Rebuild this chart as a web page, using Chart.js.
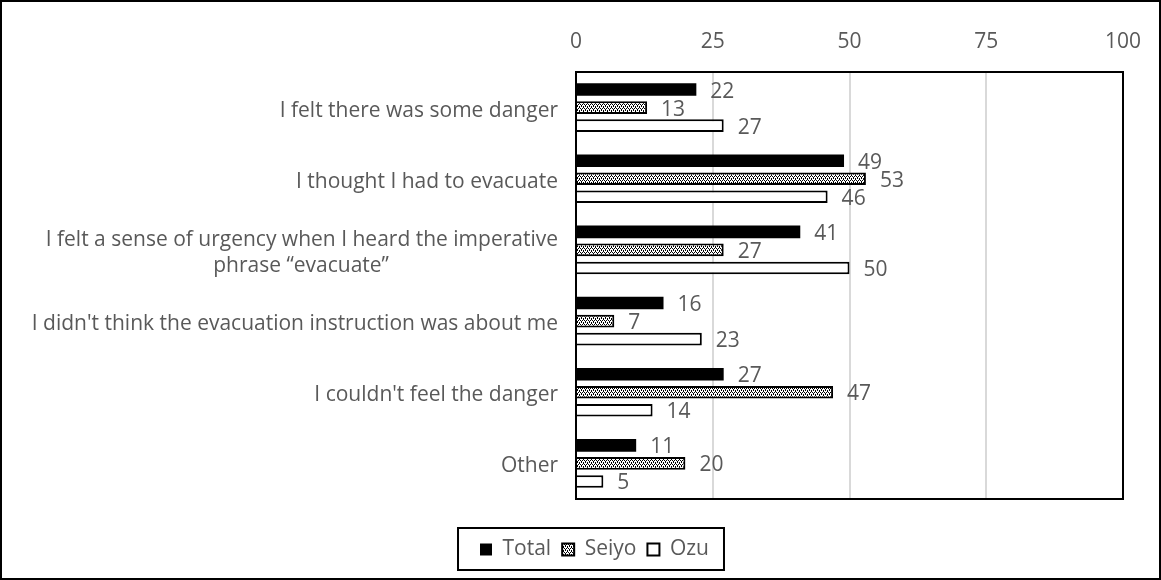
<!DOCTYPE html>
<html>
<head>
<meta charset="utf-8">
<script src="https://cdn.jsdelivr.net/npm/chart.js@4.4.1/dist/chart.umd.min.js"></script>
<style>
    html, body { margin: 0; padding: 0; background: #fff; }
    #wrap { width: 1161px; height: 580px; }
</style>
</head>
<body>
<div id="wrap"><canvas id="chart" width="1161" height="580"></canvas></div>
<script>
const CATEGORIES = [
    'I felt there was some danger',
    'I thought I had to evacuate',
    ['I felt a sense of urgency when I heard the imperative', 'phrase \u201cevacuate\u201d'],
    "I didn't think the evacuation instruction was about me",
    "I couldn't feel the danger",
    'Other',
];
const TOTAL = [22, 49, 41, 16, 27, 11];
const SEIYO = [13, 53, 27, 7, 47, 20];
const OZU = [27, 46, 50, 23, 14, 5];
const X_TICKS = [0, 25, 50, 75, 100];

const FONT_FAMILY = '"Open Sans", sans-serif';
const TEXT_COLOR = '#595959';
const FONT_SIZE = 21;
const PAD_LEFT = 28;

// Excel centres wrapped lines against each other; pad shorter lines with spaces
function centerLines(lines) {
    if (!Array.isArray(lines)) return lines;
    const ctx = document.createElement('canvas').getContext('2d');
    ctx.font = `${FONT_SIZE}px ${FONT_FAMILY}`;
    const widths = lines.map((l) => ctx.measureText(l).width);
    const maxW = Math.max(...widths);
    const spaceW = ctx.measureText(' ').width;
    return lines.map((l, i) => l + ' '.repeat(Math.round((maxW - widths[i]) / 2 / spaceW)));
}

function dotPattern() {
    const c = document.createElement('canvas');
    c.width = 4;
    c.height = 4;
    const ctx = c.getContext('2d');
    ctx.fillStyle = '#fff';
    ctx.fillRect(0, 0, 4, 4);
    ctx.fillStyle = '#000';
    ctx.fillRect(0, 0, 1, 1);
    ctx.fillRect(2, 0, 1, 1);
    ctx.fillRect(1, 2, 1, 1);
    ctx.fillRect(3, 2, 1, 1);
    ctx.fillRect(1, 1, 1, 1);
    ctx.fillRect(3, 3, 1, 1);
    return ctx.createPattern(c, 'repeat');
}

const valueLabels = {
    id: 'valueLabels',
    afterDatasetsDraw(chart) {
        const ctx = chart.ctx;
        ctx.save();
        ctx.font = `${FONT_SIZE}px ${FONT_FAMILY}`;
        ctx.fillStyle = TEXT_COLOR;
        ctx.textAlign = 'left';
        ctx.textBaseline = 'middle';
        chart.data.datasets.forEach((ds, di) => {
            chart.getDatasetMeta(di).data.forEach((bar, i) => {
                ctx.fillText(String(ds.data[i]), bar.x + 14, bar.y + 2);
            });
        });
        ctx.restore();
    },
};

const frames = {
    id: 'frames',
    afterDraw(chart) {
        const ctx = chart.ctx;
        const a = chart.chartArea;
        ctx.save();
        ctx.strokeStyle = '#000';
        ctx.lineWidth = 2;
        ctx.strokeRect(a.left, a.top, a.right - a.left, a.bottom - a.top);
        const boxes = chart.legend.legendHitBoxes;
        if (boxes && boxes.length) {
            const l = boxes[0].left - 22;
            const last = boxes[boxes.length - 1];
            const r = last.left + last.width + 15;
            ctx.strokeRect(l, 528, r - l, 42);
        }
        ctx.strokeRect(1, 1, chart.width - 2, chart.height - 2);
        ctx.restore();
    },
};

const hiddenAxis = (size, key) => ({
    type: 'linear',
    axis: key === 'height' ? 'x' : 'y',
    position: key === 'height' ? 'bottom' : 'right',
    display: true,
    afterFit: (scale) => { scale[key] = size; },
    grid: { display: false, drawTicks: false },
    border: { display: false },
    ticks: { display: false },
});

const ctx = document.getElementById('chart').getContext('2d');
new Chart(ctx, {
    type: 'bar',
    data: {
        labels: CATEGORIES.map(centerLines),
        datasets: [
            { label: 'Total', data: TOTAL, backgroundColor: '#000', borderColor: '#000', borderWidth: 0 },
            { label: 'Seiyo', data: SEIYO, backgroundColor: dotPattern(), borderColor: '#000', borderWidth: 2 },
            { label: 'Ozu', data: OZU, backgroundColor: '#fff', borderColor: '#000', borderWidth: 2 },
        ],
    },
    options: {
        indexAxis: 'y',
        responsive: false,
        animation: false,
        categoryPercentage: 0.76,
        barPercentage: 0.7,
        layout: { padding: { left: PAD_LEFT, right: 0, top: 0, bottom: 10 } },
        scales: {
            x: {
                position: 'top',
                min: 0,
                max: 100,
                afterBuildTicks: (scale) => { scale.ticks = X_TICKS.map((v) => ({ value: v })); },
                afterFit: (scale) => { scale.height = 72; },
                grid: { color: '#d9d9d9', lineWidth: 2, drawTicks: false },
                border: { display: false },
                ticks: { color: TEXT_COLOR, font: { family: FONT_FAMILY, size: FONT_SIZE }, padding: 17 },
            },
            y: {
                afterFit: (scale) => { scale.width = 576 - PAD_LEFT; },
                grid: { display: false, drawTicks: false },
                border: { display: true, color: '#000', width: 2 },
                ticks: { color: TEXT_COLOR, font: { family: FONT_FAMILY, size: FONT_SIZE }, padding: 18, labelOffset: 3 },
            },
            spacerBottom: hiddenAxis(29, 'height'),
            spacerRight: hiddenAxis(38, 'width'),
        },
        plugins: {
            legend: {
                position: 'bottom',
                labels: {
                    color: TEXT_COLOR,
                    font: { family: FONT_FAMILY, size: FONT_SIZE },
                    boxWidth: 12,
                    boxHeight: 12,
                    padding: 11,
                },
            },
            tooltip: { enabled: false },
        },
    },
    plugins: [valueLabels, frames],
});
</script>
</body>
</html>
